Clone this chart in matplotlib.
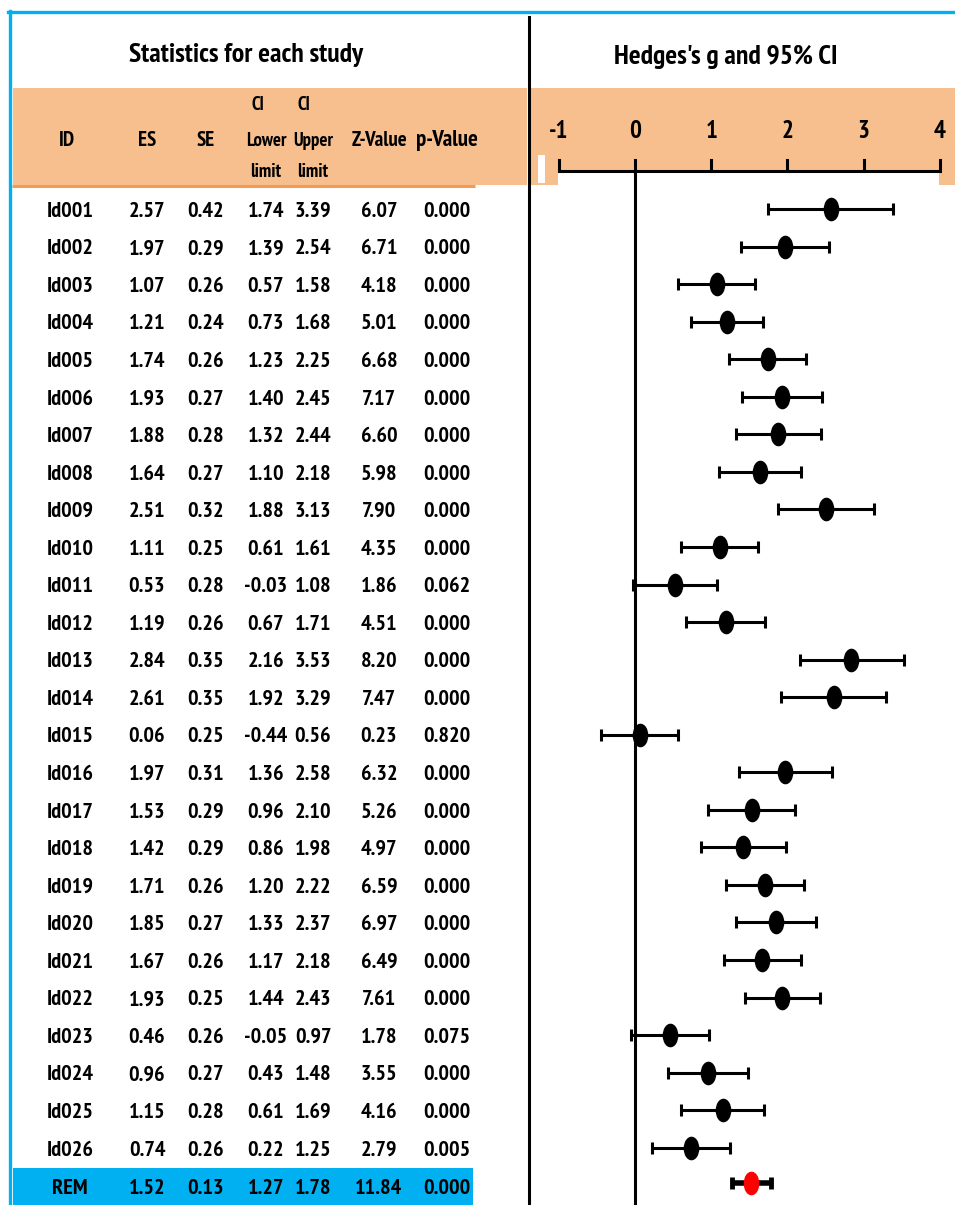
import matplotlib
matplotlib.use("Agg")
import matplotlib.pyplot as plt
from matplotlib.markers import MarkerStyle
from matplotlib.transforms import Affine2D

# ---- data ----
ids = ["Id001", "Id002", "Id003", "Id004", "Id005", "Id006", "Id007", "Id008", "Id009",
       "Id010", "Id011", "Id012", "Id013", "Id014", "Id015", "Id016", "Id017", "Id018",
       "Id019", "Id020", "Id021", "Id022", "Id023", "Id024", "Id025", "Id026"]
es = [2.57, 1.97, 1.07, 1.21, 1.74, 1.93, 1.88, 1.64, 2.51, 1.11, 0.53, 1.19, 2.84,
      2.61, 0.06, 1.97, 1.53, 1.42, 1.71, 1.85, 1.67, 1.93, 0.46, 0.96, 1.15, 0.74]
se = [0.42, 0.29, 0.26, 0.24, 0.26, 0.27, 0.28, 0.27, 0.32, 0.25, 0.28, 0.26, 0.35,
      0.35, 0.25, 0.31, 0.29, 0.29, 0.26, 0.27, 0.26, 0.25, 0.26, 0.27, 0.28, 0.26]
lower = [1.74, 1.39, 0.57, 0.73, 1.23, 1.40, 1.32, 1.10, 1.88, 0.61, -0.03, 0.67, 2.16,
         1.92, -0.44, 1.36, 0.96, 0.86, 1.20, 1.33, 1.17, 1.44, -0.05, 0.43, 0.61, 0.22]
upper = [3.39, 2.54, 1.58, 1.68, 2.25, 2.45, 2.44, 2.18, 3.13, 1.61, 1.08, 1.71, 3.53,
         3.29, 0.56, 2.58, 2.10, 1.98, 2.22, 2.37, 2.18, 2.43, 0.97, 1.48, 1.69, 1.25]
zval = [6.07, 6.71, 4.18, 5.01, 6.68, 7.17, 6.60, 5.98, 7.90, 4.35, 1.86, 4.51, 8.20,
        7.47, 0.23, 6.32, 5.26, 4.97, 6.59, 6.97, 6.49, 7.61, 1.78, 3.55, 4.16, 2.79]
pval = [0.000, 0.000, 0.000, 0.000, 0.000, 0.000, 0.000, 0.000, 0.000, 0.000, 0.062,
        0.000, 0.000, 0.000, 0.820, 0.000, 0.000, 0.000, 0.000, 0.000, 0.000, 0.000,
        0.075, 0.000, 0.000, 0.005]
rem = {"ES": 1.52, "SE": 0.13, "lo": 1.27, "hi": 1.78, "Z": 11.84, "p": 0.000}
ticks = [-1, 0, 1, 2, 3, 4]

ORANGE = "#F8BF8E"
ORANGE_LINE = "#F29B55"
BLUE = "#00B0F0"
FONT = ["PT Sans Narrow", "Liberation Sans", "DejaVu Sans"]

W, H = 955, 1205
fig = plt.figure(figsize=(W / 100, H / 100), dpi=100)

# row index -> pixel y : 209 + 37.55*i
def py(p):
    return (p - 209) / 37.55

ytop, ybot = py(88), py(1205)

def txt(ax, x, y, s, size, **kw):
    ax.text(x, y, s, ha="center", va="center", fontsize=size, fontweight="bold", family=FONT, **kw)

# ---- left: table ----
axl = fig.add_axes([0, 0, 529 / W, (1205 - 88) / H])
axl.set_xlim(0, 529)
axl.set_ylim(ybot, ytop)
axl.axis("off")
axl.axhspan(ytop, py(185), xmin=13 / 529, xmax=527 / 529, color=ORANGE, lw=0)
axl.plot([12, 475], [py(186), py(186)], color=ORANGE_LINE, lw=2.2, solid_capstyle="butt")
axl.axhspan(py(1168), ybot, xmin=13 / 529, xmax=473 / 529, color=BLUE, lw=0)

cols = [70, 147, 206, 266, 313, 379, 447]
hdr_y = py(141)
txt(axl, cols[0] - 3, hdr_y, "ID", 15)
txt(axl, cols[1], hdr_y, "ES", 15)
txt(axl, cols[2], hdr_y, "SE", 15)
txt(axl, cols[3] - 8, py(105), "CI", 13.5)
txt(axl, cols[4] - 9, py(105), "CI", 13.5)
txt(axl, cols[3], py(141), "Lower", 13.5)
txt(axl, cols[4], py(141), "Upper", 13.5)
txt(axl, cols[3], py(172), "limit", 13.5)
txt(axl, cols[4], py(172), "limit", 13.5)
txt(axl, cols[5], hdr_y, "Z-Value", 15)
txt(axl, cols[6], hdr_y, "p-Value", 16.5)

fs = 16
for i in range(len(ids)):
    row = [ids[i], f"{es[i]:.2f}", f"{se[i]:.2f}", f"{lower[i]:.2f}", f"{upper[i]:.2f}",
           f"{zval[i]:.2f}", f"{pval[i]:.3f}"]
    for cx, s in zip(cols, row):
        txt(axl, cx, i + 0.06, s, fs)
r = len(ids)
row = ["REM", f"{rem['ES']:.2f}", f"{rem['SE']:.2f}", f"{rem['lo']:.2f}", f"{rem['hi']:.2f}",
       f"{rem['Z']:.2f}", f"{rem['p']:.3f}"]
for cx, s in zip(cols, row):
    txt(axl, cx, r + 0.08, s, fs)

# ---- right: forest plot ----
axr = fig.add_axes([531 / W, 0, (W - 531) / W, (1205 - 88) / H])
axr.set_xlim((531 - 635) / 76.2, (955 - 635) / 76.2)
axr.set_ylim(ybot, ytop)
axr.axis("off")
axr.axhspan(ytop, py(185), color=ORANGE, lw=0)
axr.axhspan(py(172), py(185), xmin=(558 - 531) / 424, xmax=(939 - 531) / 424, color="white", lw=0)
axr.axhspan(py(155), py(183), xmin=(538 - 531) / 424, xmax=(545 - 531) / 424, color="white", lw=0)

yax = py(171)
axr.plot([ticks[0], ticks[-1]], [yax, yax], color="black", lw=2.2, solid_capstyle="butt")
for t in ticks:
    axr.plot([t, t], [yax, py(160)], color="black", lw=2.2)
    txt(axr, t, py(132), str(t), 18)
axr.plot([0, 0], [yax, ybot], color="black", lw=2.2)

oval = MarkerStyle("o", transform=Affine2D().scale(0.64, 1.0))
yrows = list(range(len(ids)))
axr.errorbar(es, yrows, xerr=[[e - l for e, l in zip(es, lower)], [u - e for e, u in zip(es, upper)]],
             fmt="none", ecolor="black", elinewidth=2.2, capsize=4.5, capthick=2.2)
axr.plot(es, yrows, ls="none", marker=oval, ms=16, color="black")
axr.errorbar([rem["ES"]], [r - 0.05], xerr=[[rem["ES"] - rem["lo"]], [rem["hi"] - rem["ES"]]],
             fmt="none", ecolor="black", elinewidth=4, capsize=4, capthick=3.5)
axr.plot([rem["ES"]], [r - 0.05], ls="none", marker=oval, ms=16, color="red")

# ---- frame lines and titles ----
fig.add_artist(plt.Line2D([8 / W, 1], [1 - 12 / H, 1 - 12 / H], color=BLUE, lw=2.4))
fig.add_artist(plt.Line2D([10 / W, 10 / W], [0, 1 - 11 / H], color=BLUE, lw=2.4))
fig.add_artist(plt.Line2D([529 / W, 529 / W], [0, 1 - 17 / H], color="black", lw=2.2))

fig.text(246 / W, 1 - 55 / H, "Statistics for each study", ha="center", va="center",
         fontsize=20, fontweight="bold", family=FONT)
fig.text(726 / W, 1 - 57 / H, "Hedges's g and 95% CI", ha="center", va="center",
         fontsize=20, fontweight="bold", family=FONT)

fig.savefig("out.png", dpi=100)
